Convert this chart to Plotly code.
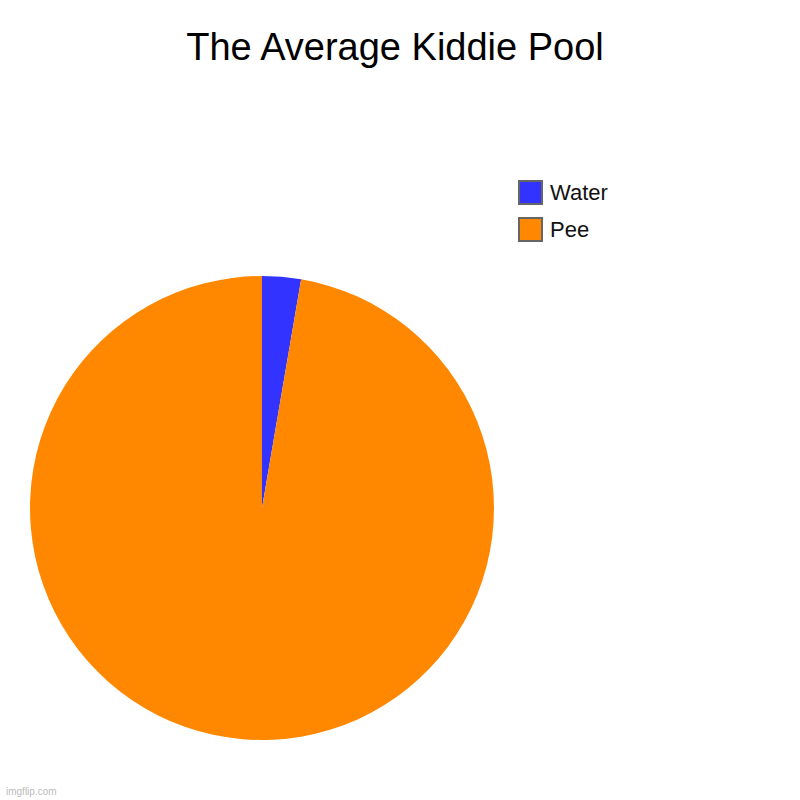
import plotly.graph_objects as go

# chart data
labels = ['Water', 'Pee']
values = [2.7, 97.3]
colors = ['#3333FF', '#FF8800']

fig = go.Figure()

fig.add_trace(
    go.Pie(
        labels=labels,
        values=values,
        marker=dict(colors=colors, line=dict(width=0)),
        sort=False,
        direction='clockwise',
        rotation=0,
        textinfo='none',
        hoverinfo='label+value',
        showlegend=False,
        domain=dict(x=[30 / 800, 494 / 800], y=[1 - 740 / 800, 1 - 276 / 800])
    )
)

# hand-drawn legend so the swatches can be large
for i, (lab, col) in enumerate(zip(labels, colors)):
    y0 = 181 + i * 37
    fig.add_shape(
        type='rect', xref='paper', yref='paper',
        x0=519 / 800, x1=542 / 800,
        y0=1 - (y0 + 23) / 800, y1=1 - y0 / 800,
        fillcolor=col, line=dict(color='#666666', width=2)
    )
    fig.add_annotation(
        x=548 / 800, y=1 - (y0 + 11.5) / 800, xref='paper', yref='paper',
        text=lab, showarrow=False, xanchor='left', yanchor='middle',
        font=dict(size=22, color='#111111')
    )

# watermark
fig.add_annotation(
    x=4 / 800, y=1 - 791 / 800, xref='paper', yref='paper',
    text='imgflip.com', showarrow=False, xanchor='left', yanchor='middle',
    font=dict(size=10, color='#bbbbbb')
)

fig.update_layout(
    title=dict(text='The Average Kiddie Pool', x=395 / 800, xanchor='center',
               y=1 - 47 / 800, yanchor='middle',
               font=dict(size=38, color='#000000')),
    font=dict(family='Liberation Sans, Arial, sans-serif'),
    width=800,
    height=800,
    margin=dict(l=0, r=0, t=0, b=0),
    paper_bgcolor='white',
    plot_bgcolor='white'
)

# drop the default page margin so the 800x800 figure fills the window
fig.write_html("out.html", config={'displayModeBar': False},
               post_script="document.body.style.margin='0px';")
